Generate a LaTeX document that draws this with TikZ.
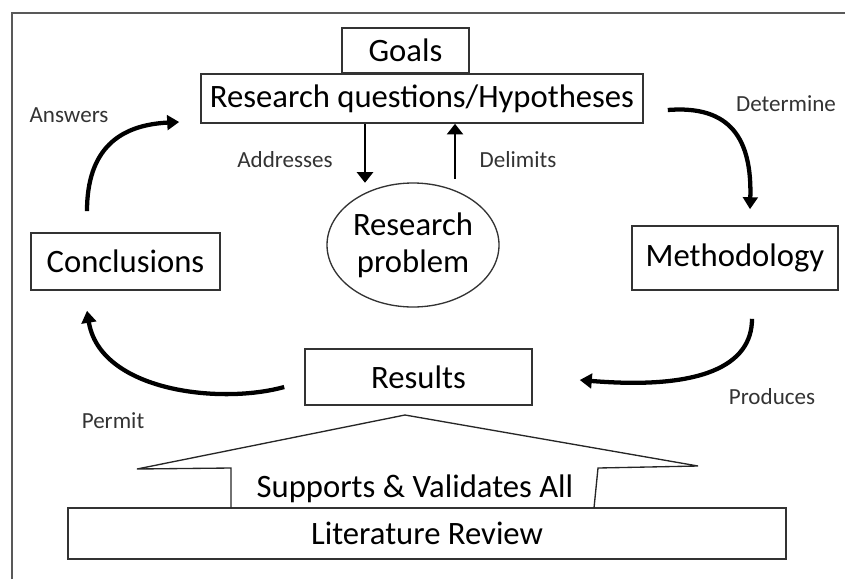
\documentclass[tikz,border=0pt]{standalone}
\usepackage{fontspec}
\setmainfont{Carlito}
\usetikzlibrary{arrows.meta,shapes.geometric,calc}

\begin{document}
\begin{tikzpicture}[x=0.75pt, y=-0.75pt,
    box/.style={draw=black!80, line width=1.2pt, inner sep=0pt, align=center,
        font=\fontsize{24.5}{28}\selectfont},
    lbl/.style={text=black!80, inner sep=0pt, font=\fontsize{17.3}{20}\selectfont},
    bigarr/.style={line width=3.2pt, -{Triangle[width=11pt,length=9pt]}},
    smallarr/.style={line width=2.2pt, -{Triangle[width=12pt,length=8pt]}}]
    \useasboundingbox (0,0) rectangle (845,579);

    % the frame round everything
    \draw[black!65, line width=1.5pt] (12,579) -- (12,13) -- (845,13);

    % the boxes
    \node[box, minimum width=95.25pt, minimum height=33.75pt] (goals) at (405.5,50.5) {Goals};
    \node[box, minimum width=331.5pt, minimum height=36.75pt] (rq) at (422,98.5) {Research questions/Hypotheses};
    \node[box, ellipse, line width=1pt, minimum width=129pt, minimum height=93pt] (prob) at (413,245) {Research\\problem};
    \node[box, minimum width=141.75pt, minimum height=42.75pt] (conc) at (125.5,261.5) {Conclusions};
    \node[box, minimum width=154.5pt, minimum height=48pt] (meth) at (735,258) {Methodology};
    \node[box, minimum width=170.25pt, minimum height=42pt] (res) at (418.5,377) {Results};
    \node[box, minimum width=538.5pt, minimum height=38.25pt] (lit) at (427,533.5) {Literature Review};

    % the big arrow standing on the literature review
    \draw[black!85, line width=1pt, line join=miter]
        (231,508) -- (231,468) -- (137,469) -- (405,415) -- (698,466) -- (598,468) -- (594,508);
    \node[box, draw=none] (supp) at (415,489) {Supports \& Validates All};

    % the arrows between research questions and problem
    \draw[smallarr] ($(rq.south)+(-57,0)$) -- ($(rq.south)+(-57,59)$);
    \draw[smallarr] ($(rq.south)+(33,55)$) -- ($(rq.south)+(33,0)$);

    % the cycle round the diagram
    \draw[bigarr] ($(conc.north)+(-38.5,-21)$) .. controls +(0,-62) and +(-60,3) .. ($(rq.west)+(-21,23.5)$);
    \draw[bigarr] ($(rq.east)+(24,11.5)$) .. controls +(63,-5) and +(2,-70) .. ($(meth.north)+(15,-16)$);
    \draw[bigarr] ($(meth.south)+(17,28)$) .. controls +(0,47) and +(121,10) .. ($(res.east)+(47,3)$);
    \draw[bigarr] ($(res.west)+(-20,10)$) .. controls +(-65,18) and +(13,80) .. ($(conc.south)+(-38.5,20)$);

    % the texts on the arrows
    \node[lbl] (answers) at (69,115) {Answers};
    \node[lbl] (determine) at (786,104) {Determine};
    \node[lbl] (produces) at (772,397) {Produces};
    \node[lbl] (permit) at (113,421) {Permit};
    \node[lbl] (addresses) at (285,160) {Addresses};
    \node[lbl] (delimits) at (518,160) {Delimits};
\end{tikzpicture}
\end{document}
